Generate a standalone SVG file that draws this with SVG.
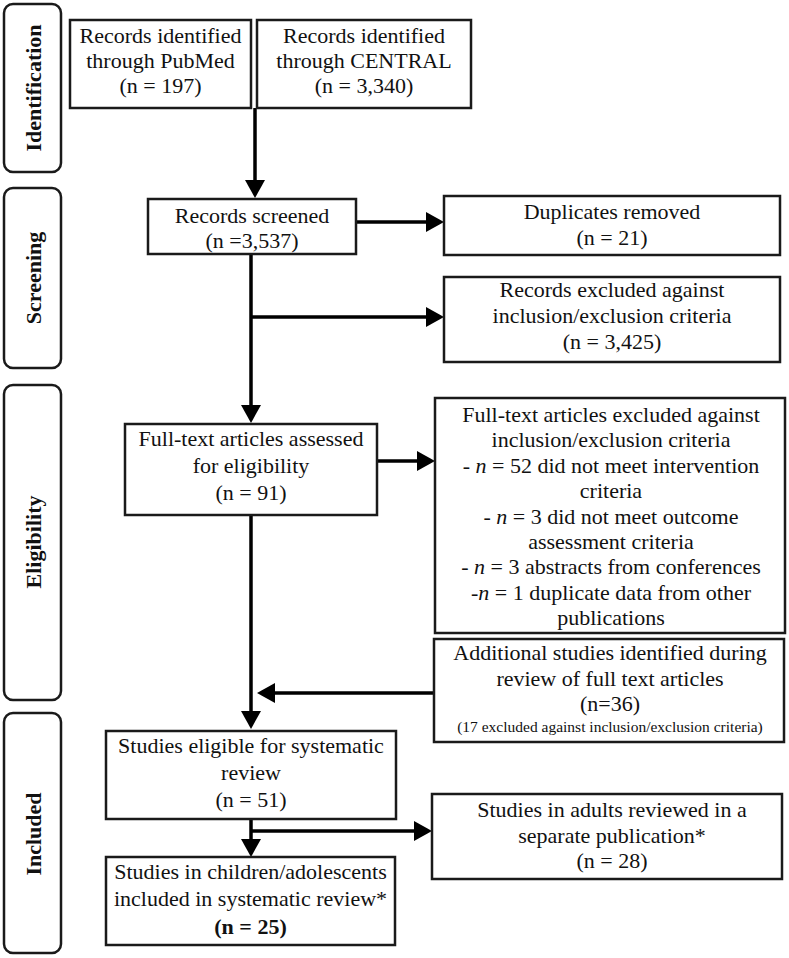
<svg xmlns="http://www.w3.org/2000/svg" width="789" height="958" viewBox="0 0 789 958">
<style>
.box{fill:#fff;stroke:#1a1a1a;stroke-width:2.5}
.side{fill:#fff;stroke:#1a1a1a;stroke-width:2.5}
.t{font-family:"Liberation Serif","Times New Roman",serif;font-size:22px;fill:#111;text-anchor:middle}
.s{font-family:"Liberation Serif","Times New Roman",serif;font-size:15.5px;fill:#111;text-anchor:middle}
.lab{font-family:"Liberation Serif","Times New Roman",serif;font-size:22px;font-weight:bold;fill:#111;text-anchor:middle}
.c{fill:none;stroke:#000;stroke-width:3.5}
</style>
<defs>
<marker id="ah" viewBox="0 0 18 20" refX="8" refY="10" markerWidth="18" markerHeight="20" markerUnits="userSpaceOnUse" orient="auto">
<path d="M0,0 L18,10 L0,20 z" fill="#000"/>
</marker>
</defs>
<rect width="789" height="958" fill="#fff"/>

<g id="stage-identification">
<rect class="side" x="4" y="4" width="57" height="168" rx="9"/>
<text class="lab" transform="translate(41,88) rotate(-90)">Identification</text>
</g>
<g id="stage-screening">
<rect class="side" x="4" y="188" width="57" height="180" rx="9"/>
<text class="lab" transform="translate(41,278) rotate(-90)">Screening</text>
</g>
<g id="stage-eligibility">
<rect class="side" x="4" y="385" width="57" height="315" rx="9"/>
<text class="lab" transform="translate(41,542) rotate(-90)">Eligibility</text>
</g>
<g id="stage-included">
<rect class="side" x="4" y="713" width="57" height="240" rx="9"/>
<text class="lab" transform="translate(41,834) rotate(-90)">Included</text>
</g>

<g id="connectors">
<path class="c" d="M255,108 V188" marker-end="url(#ah)"/>
<path class="c" d="M251,254 V413" marker-end="url(#ah)"/>
<path class="c" d="M356,222 H434" marker-end="url(#ah)"/>
<path class="c" d="M251,317 H434" marker-end="url(#ah)"/>
<path class="c" d="M377,461 H425" marker-end="url(#ah)"/>
<path class="c" d="M251,515 V719" marker-end="url(#ah)"/>
<path class="c" d="M434,693 H267" marker-end="url(#ah)"/>
<path class="c" d="M251,819 V847" marker-end="url(#ah)"/>
<path class="c" d="M251,831 H422" marker-end="url(#ah)"/>
</g>

<g id="pubmed">
<rect class="box" x="70" y="20" width="181" height="88"/>
<text class="t" x="160.5" y="43">Records identified</text>
<text class="t" x="160.5" y="68">through PubMed</text>
<text class="t" x="160.5" y="93">(n = 197)</text>
</g>
<g id="central">
<rect class="box" x="257" y="20" width="214" height="88"/>
<text class="t" x="364" y="43">Records identified</text>
<text class="t" x="364" y="68">through CENTRAL</text>
<text class="t" x="364" y="93">(n = 3,340)</text>
</g>
<g id="screened">
<rect class="box" x="148" y="199" width="208" height="55"/>
<text class="t" x="252" y="223">Records screened</text>
<text class="t" x="252" y="248">(n =3,537)</text>
</g>
<g id="duplicates">
<rect class="box" x="444" y="196" width="336" height="59"/>
<text class="t" x="612" y="219">Duplicates removed</text>
<text class="t" x="612" y="245">(n = 21)</text>
</g>
<g id="records-excluded">
<rect class="box" x="444" y="277" width="336" height="85"/>
<text class="t" x="612" y="297">Records excluded against</text>
<text class="t" x="612" y="323">inclusion/exclusion criteria</text>
<text class="t" x="612" y="349">(n = 3,425)</text>
</g>
<g id="fulltext-assessed">
<rect class="box" x="125" y="424" width="252" height="91"/>
<text class="t" x="251" y="446">Full-text articles assessed</text>
<text class="t" x="251" y="473">for eligibility</text>
<text class="t" x="251" y="500">(n = 91)</text>
</g>
<g id="fulltext-excluded">
<rect class="box" x="435" y="398" width="350" height="235"/>
<text class="t" x="611" y="422">Full-text articles excluded against</text>
<text class="t" x="611" y="447.4">inclusion/exclusion criteria</text>
<text class="t" x="611" y="472.8">- <tspan font-style="italic">n</tspan> = 52 did not meet intervention</text>
<text class="t" x="611" y="498.2">criteria</text>
<text class="t" x="611" y="523.6">- <tspan font-style="italic">n</tspan> = 3 did not meet outcome</text>
<text class="t" x="611" y="549">assessment criteria</text>
<text class="t" x="611" y="574.4">- <tspan font-style="italic">n</tspan> = 3 abstracts from conferences</text>
<text class="t" x="611" y="599.8">-<tspan font-style="italic">n</tspan> = 1 duplicate data from other</text>
<text class="t" x="611" y="625.2">publications</text>
</g>
<g id="additional">
<rect class="box" x="434" y="639" width="350" height="103"/>
<text class="t" x="610" y="660">Additional studies identified during</text>
<text class="t" x="610" y="686">review of full text articles</text>
<text class="t" x="610" y="711">(n=36)</text>
<text class="s" x="610" y="732">(17 excluded against inclusion/exclusion criteria)</text>
</g>
<g id="eligible">
<rect class="box" x="106" y="731" width="290" height="88"/>
<text class="t" x="251" y="753">Studies eligible for systematic</text>
<text class="t" x="251" y="780">review</text>
<text class="t" x="251" y="807">(n = 51)</text>
</g>
<g id="adults">
<rect class="box" x="432" y="794" width="350" height="85"/>
<text class="t" x="612" y="817">Studies in adults reviewed in a</text>
<text class="t" x="612" y="843">separate publication*</text>
<text class="t" x="612" y="868">(n = 28)</text>
</g>
<g id="children">
<rect class="box" x="106" y="857" width="289" height="88"/>
<text class="t" x="250.5" y="879">Studies in children/adolescents</text>
<text class="t" x="250.5" y="906">included in systematic review*</text>
<text class="t" x="250.5" y="934" font-weight="bold">(n = 25)</text>
</g>
</svg>
